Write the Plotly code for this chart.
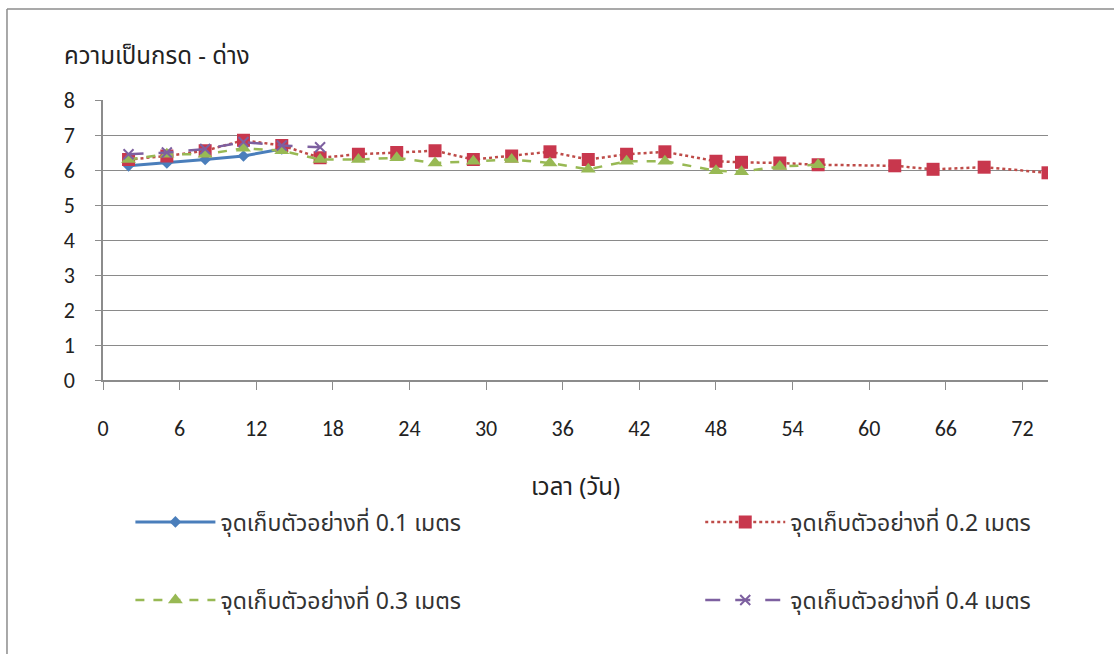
import plotly.graph_objects as go

# Sampling days and pH readings for each sampling depth
days_01 = [2, 5, 8, 11, 14]
ph_01 = [6.12, 6.2, 6.3, 6.4, 6.6]

days_02 = [2, 5, 8, 11, 14, 17, 20, 23, 26, 29, 32, 35, 38, 41, 44, 48, 50, 53, 56, 62, 65, 69, 74]
ph_02 = [6.3, 6.4, 6.55, 6.85, 6.7, 6.35, 6.45, 6.5, 6.55, 6.3, 6.4, 6.52, 6.3, 6.45, 6.52,
         6.25, 6.22, 6.2, 6.15, 6.12, 6.02, 6.08, 5.92]

days_03 = [2, 5, 8, 11, 14, 17, 20, 23, 26, 29, 32, 35, 38, 41, 44, 48, 50, 53, 56]
ph_03 = [6.3, 6.45, 6.45, 6.62, 6.55, 6.3, 6.3, 6.35, 6.2, 6.25, 6.3, 6.2, 6.02, 6.25, 6.25,
         5.98, 5.95, 6.1, 6.15]

days_04 = [2, 5, 8, 11, 14, 17]
ph_04 = [6.45, 6.5, 6.6, 6.8, 6.7, 6.65]

series_names = [
    "จุดเก็บตัวอย่างที่ 0.1 เมตร",
    "จุดเก็บตัวอย่างที่ 0.2 เมตร",
    "จุดเก็บตัวอย่างที่ 0.3 เมตร",
    "จุดเก็บตัวอย่างที่ 0.4 เมตร",
]

x_ticks = [0, 6, 12, 18, 24, 30, 36, 42, 48, 54, 60, 66, 72]
y_ticks = [0, 1, 2, 3, 4, 5, 6, 7, 8]

y_title = "ความเป็นกรด - ด่าง"
x_title = "เวลา (วัน)"

NUM_FONT = "Carlito, Liberation Sans Narrow, Arial Narrow, Liberation Sans, sans-serif"
THAI_FONT = "Tahoma, Noto Sans Thai, Loma, Garuda, Liberation Sans, sans-serif"

fig = go.Figure()

fig.add_trace(go.Scatter(
    x=days_01, y=ph_01, name=series_names[0], mode="lines+markers",
    line=dict(color="#4A7EBB", width=3),
    marker=dict(symbol="diamond", size=9, color="#4A7EBB"),
    legend="legend", showlegend=True,
))
fig.add_trace(go.Scatter(
    x=days_02, y=ph_02, name=series_names[1], mode="lines+markers",
    line=dict(color="#BE4B48", width=2.5, dash="dot"),
    marker=dict(symbol="square", size=13, color="#C8374D"),
    legend="legend2", showlegend=True,
))
fig.add_trace(go.Scatter(
    x=days_03, y=ph_03, name=series_names[2], mode="lines+markers",
    line=dict(color="#98B954", width=2.5, dash="dash"),
    marker=dict(symbol="triangle-up", size=13, color="#98B954"),
    legend="legend3", showlegend=True,
))
fig.add_trace(go.Scatter(
    x=days_04, y=ph_04, name=series_names[3], mode="lines+markers",
    line=dict(color="#7D60A0", width=2.5, dash="longdash"),
    marker=dict(symbol="x-thin", size=10, color="#7D60A0",
                line=dict(color="#7D60A0", width=2)),
    legend="legend4", showlegend=True,
))

legend_common = dict(
    font=dict(family=THAI_FONT, size=23, color="#333333"),
    bgcolor="rgba(0,0,0,0)",
    itemwidth=80,
    yanchor="middle",
    xanchor="left",
)

fig.update_layout(
    width=1114, height=654,
    margin=dict(l=103, r=66, t=100, b=274),
    paper_bgcolor="white",
    plot_bgcolor="white",
    showlegend=True,
    xaxis=dict(
        range=[0, 74],
        tickvals=x_ticks,
        ticktext=[str(v) for v in x_ticks],
        showgrid=False,
        zeroline=False,
        showline=True, linecolor="#8c8c8c", linewidth=1.5,
        ticks="outside", ticklen=8, tickcolor="#8c8c8c",
        ticklabelstandoff=20,
        tickfont=dict(family=NUM_FONT, size=22, color="#222222"),
        fixedrange=True,
    ),
    yaxis=dict(
        range=[0, 8],
        tickvals=y_ticks,
        showgrid=True, gridcolor="#8a8a8a", gridwidth=1.2,
        zeroline=False,
        showline=True, linecolor="#8c8c8c", linewidth=1.5,
        ticks="outside", ticklen=6, tickcolor="#8c8c8c",
        ticklabelstandoff=16,
        tickfont=dict(family=NUM_FONT, size=22, color="#222222"),
        fixedrange=True,
    ),
    legend=dict(x=0.029, y=-0.507, **legend_common),
    legend2=dict(x=0.632, y=-0.507, **legend_common),
    legend3=dict(x=0.029, y=-0.786, **legend_common),
    legend4=dict(x=0.632, y=-0.786, **legend_common),
    annotations=[
        dict(text=y_title, xref="paper", yref="paper", x=-0.043, y=1.155,
             xanchor="left", yanchor="middle", showarrow=False,
             font=dict(family=THAI_FONT, size=24, color="#222222")),
        dict(text=x_title, xref="paper", yref="paper", x=0.5, y=-0.385,
             xanchor="center", yanchor="middle", showarrow=False,
             font=dict(family=THAI_FONT, size=24, color="#222222")),
    ],
    shapes=[
        # outer chart frame (top and left edges)
        dict(type="line", xref="paper", yref="paper", x0=-0.1016, x1=1.08,
             y0=1.325, y1=1.325, line=dict(color="#8c8c8c", width=1.5)),
        dict(type="line", xref="paper", yref="paper", x0=-0.1016, x1=-0.1016,
             y0=1.325, y1=-0.99, line=dict(color="#8c8c8c", width=1.5)),
    ],
)

fig.write_html("out.html")
